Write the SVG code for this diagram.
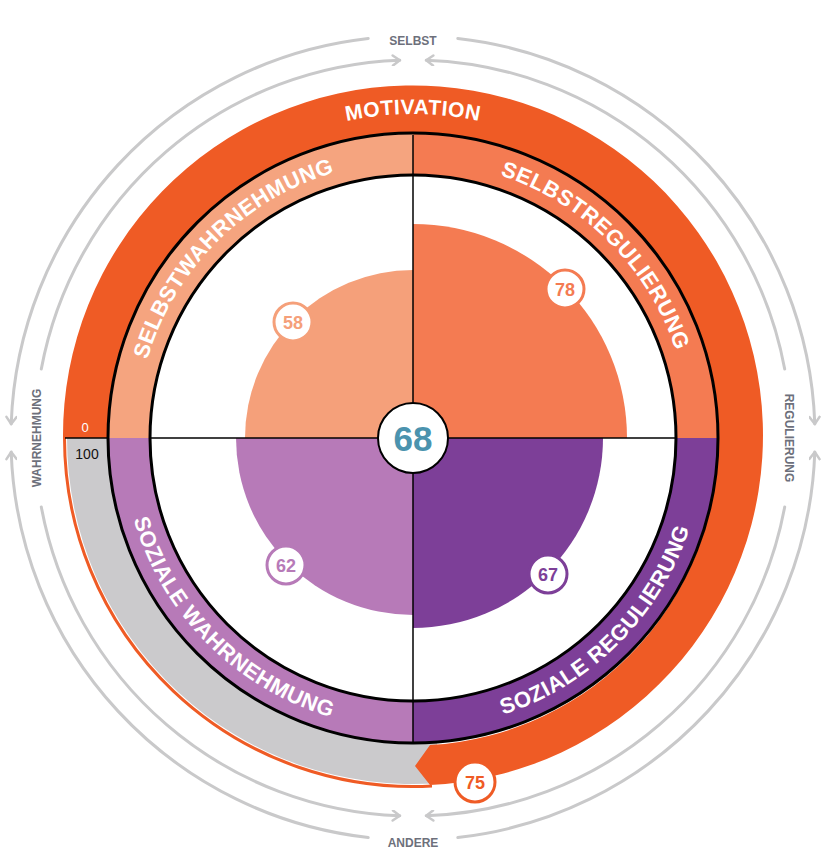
<svg xmlns="http://www.w3.org/2000/svg" width="833" height="859" viewBox="0 0 833 859">
<style>
.arc{fill:none;stroke:#C9C9CA;stroke-width:3;stroke-linecap:round}
.lbl{font-family:"Liberation Sans",Arial,sans-serif;font-weight:bold;font-size:12px;fill:#6D707B;text-anchor:middle}
.ring{font-family:"Liberation Sans",Arial,sans-serif;font-weight:bold;fill:#fff}
.badge{fill:#fff;stroke-width:3}
.num{font-family:"Liberation Sans",Arial,sans-serif;font-weight:bold;font-size:18px;text-anchor:middle}
</style>
<defs>
<marker id="ah" viewBox="0 0 12 12" refX="10" refY="6" markerWidth="12" markerHeight="12" markerUnits="userSpaceOnUse" orient="auto">
<path d="M3,1 L10,6 L3,11" fill="none" stroke="#C9C9CA" stroke-width="2.5" stroke-linecap="round" stroke-linejoin="round"/>
</marker>
<path id="pMot" d="M112.3,328.6 A318,318 0 0 1 713.7,328.6"/>
<path id="pTL" d="M136,438 A277,277 0 0 1 413,161"/>
<path id="pTR" d="M413,161 A277,277 0 0 1 690,438"/>
<path id="pBL" d="M122,438 A291,291 0 0 0 413,729"/>
<path id="pBR" d="M413,729 A291,291 0 0 0 704,438"/>
</defs>
<rect width="833" height="859" fill="#fff"/>
<g id="guides">
<path class="arc" marker-end="url(#ah)" d="M41.3,369.1 A378,378 0 0 1 399.8,60.2"/>
<path class="arc" marker-end="url(#ah)" d="M368.2,38.5 A402,402 0 0 0 11.2,424"/>
<path class="arc" marker-end="url(#ah)" d="M784.7,369.1 A378,378 0 0 0 426.2,60.2"/>
<path class="arc" marker-end="url(#ah)" d="M457.8,38.5 A402,402 0 0 1 814.8,424"/>
<path class="arc" marker-end="url(#ah)" d="M784.7,507 A378,378 0 0 1 426.2,815.8"/>
<path class="arc" marker-end="url(#ah)" d="M457.8,837.5 A402,402 0 0 0 814.8,452"/>
<path class="arc" marker-end="url(#ah)" d="M41.3,507 A378,378 0 0 0 399.8,815.8"/>
<path class="arc" marker-end="url(#ah)" d="M368.2,837.5 A402,402 0 0 1 11.2,452"/>
<text class="lbl" x="413" y="45">SELBST</text>
<text class="lbl" x="413" y="847">ANDERE</text>
<text class="lbl" transform="translate(41,438) rotate(-90)">WAHRNEHMUNG</text>
<text class="lbl" transform="translate(785,438) rotate(90)">REGULIERUNG</text>
</g>
<g id="motivation">
<path d="M440,783 A346,346 0 0 1 67,438 L108,438 A305,305 0 0 0 437,742 Z" fill="#CBCACC"/>
<path d="M432,786 A348.5,348.5 0 0 1 64.5,438" fill="none" stroke="#EF5B25" stroke-width="3"/>
<path d="M63,438 A350,350 0 1 1 430,785 L415,766 L430,745 A305,305 0 1 0 108,438 Z" fill="#EF5B25"/>
<text class="ring" font-size="21"><textPath href="#pMot" startOffset="50%" text-anchor="middle" letter-spacing="0.5">MOTIVATION</textPath></text>
<text x="85" y="432" font-family="Liberation Sans,Arial,sans-serif" font-size="13" fill="#fff" text-anchor="middle">0</text>
<text x="87" y="459" font-family="Liberation Sans,Arial,sans-serif" font-size="14" fill="#111" text-anchor="middle">100</text>
</g>
<g id="band">
<path d="M108,438 A305,305 0 0 1 413,133 L413,175 A263,263 0 0 0 150,438 Z" fill="#F5A47F"/>
<path d="M413,133 A305,305 0 0 1 718,438 L676,438 A263,263 0 0 0 413,175 Z" fill="#F47B52"/>
<path d="M718,438 A305,305 0 0 1 413,743 L413,701 A263,263 0 0 0 676,438 Z" fill="#7D3F98"/>
<path d="M413,743 A305,305 0 0 1 108,438 L150,438 A263,263 0 0 0 413,701 Z" fill="#B77AB8"/>
<circle cx="413" cy="438" r="263" fill="#fff"/>
<circle cx="413" cy="438" r="305" fill="none" stroke="#000" stroke-width="3"/>
<circle cx="413" cy="438" r="263" fill="none" stroke="#000" stroke-width="3"/>
<text class="ring" font-size="22"><textPath href="#pTL" startOffset="50%" text-anchor="middle" letter-spacing="0.5">SELBSTWAHRNEHMUNG</textPath></text>
<text class="ring" font-size="22"><textPath href="#pTR" startOffset="50%" text-anchor="middle" letter-spacing="0.5">SELBSTREGULIERUNG</textPath></text>
<text class="ring" font-size="22"><textPath href="#pBL" startOffset="50%" text-anchor="middle" letter-spacing="0.5">SOZIALE WAHRNEHMUNG</textPath></text>
<text class="ring" font-size="22"><textPath href="#pBR" startOffset="50%" text-anchor="middle" letter-spacing="0.5">SOZIALE REGULIERUNG</textPath></text>
</g>
<g id="pies">
<path d="M413,438 L245,438 A168,168 0 0 1 413,270 Z" fill="#F5A07A"/>
<path d="M413,438 L413,224 A214,214 0 0 1 627,438 Z" fill="#F47B52"/>
<path d="M413,438 L603,438 A190,190 0 0 1 413,628 Z" fill="#7D3F98"/>
<path d="M413,438 L413,615 A177,177 0 0 1 236,438 Z" fill="#B77AB8"/>
</g>
<g id="cross" stroke="#000" stroke-width="1.5">
<line x1="65" y1="438" x2="108" y2="438"/>
<line x1="150" y1="438" x2="676" y2="438"/>
<line x1="413" y1="135" x2="413" y2="743"/>
</g>
<g id="badges">
<circle class="badge" cx="293" cy="322" r="19" stroke="#F5A07A"/>
<text class="num" x="293" y="328.5" fill="#F5A07A">58</text>
<circle class="badge" cx="565" cy="289" r="19" stroke="#F47B52"/>
<text class="num" x="565" y="295.5" fill="#F47B52">78</text>
<circle class="badge" cx="286" cy="565" r="19" stroke="#B77AB8"/>
<text class="num" x="286" y="571.5" fill="#B77AB8">62</text>
<circle class="badge" cx="548" cy="574" r="19" stroke="#7D3F98"/>
<text class="num" x="548" y="580.5" fill="#7D3F98">67</text>
<circle class="badge" cx="475" cy="782" r="20" stroke="#EF5B25"/>
<text class="num" x="475" y="789" fill="#EF5B25" font-size="19">75</text>
</g>
<g id="center">
<circle cx="413" cy="438" r="35" fill="#fff" stroke="#000" stroke-width="2"/>
<text x="413" y="451" font-family="Liberation Sans,Arial,sans-serif" font-weight="bold" font-size="35" fill="#4B93AE" text-anchor="middle">68</text>
</g>
</svg>
